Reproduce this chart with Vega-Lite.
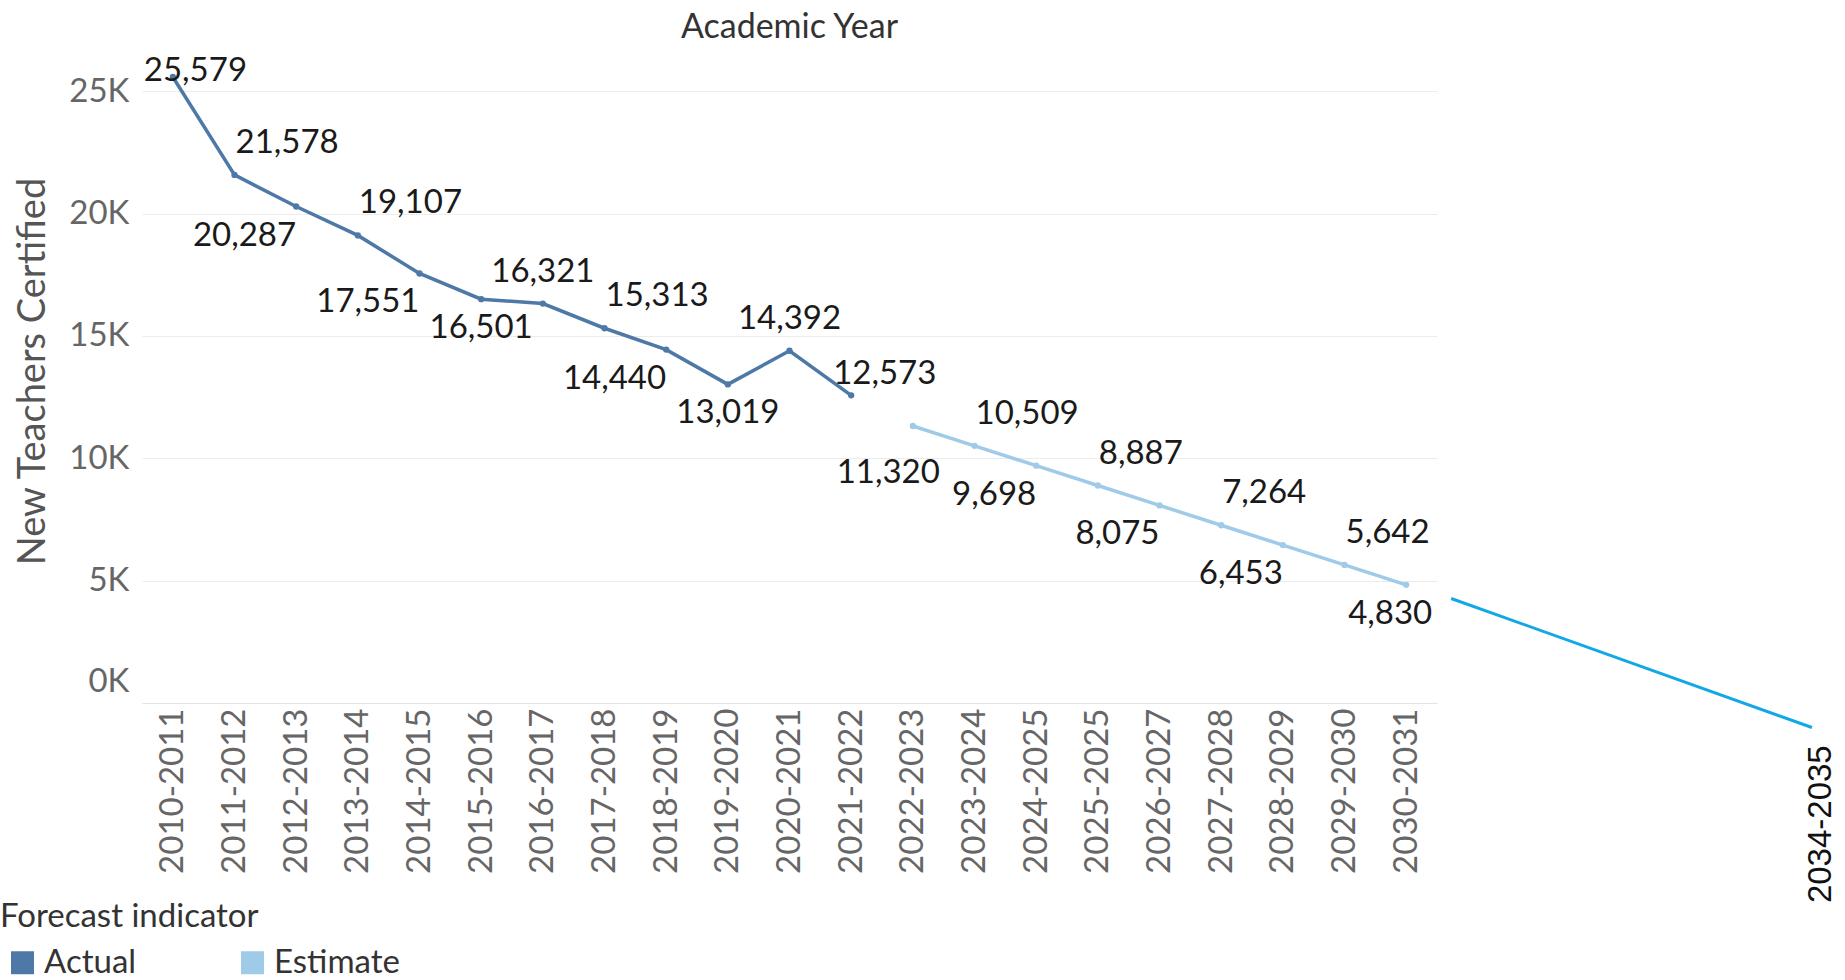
{
  "$schema": "https://vega.github.io/schema/vega-lite/v6.json",
  "width": 1295,
  "height": 650,
  "autosize": {"type": "none"},
  "padding": {"left": 142, "top": 53, "right": 408, "bottom": 277},
  "background": "white",
  "config": {"view": {"stroke": null}, "font": "Lato"},
  "title": {"text": "Academic Year", "frame": "group", "anchor": "middle", "font": "Lato", "fontSize": 34, "fontWeight": "normal", "color": "#333333", "offset": 8},
  "datasets": {
    "main": [
      {"year": "2010-2011", "value": 25579, "indicator": "Actual"},
      {"year": "2011-2012", "value": 21578, "indicator": "Actual"},
      {"year": "2012-2013", "value": 20287, "indicator": "Actual"},
      {"year": "2013-2014", "value": 19107, "indicator": "Actual"},
      {"year": "2014-2015", "value": 17551, "indicator": "Actual"},
      {"year": "2015-2016", "value": 16501, "indicator": "Actual"},
      {"year": "2016-2017", "value": 16321, "indicator": "Actual"},
      {"year": "2017-2018", "value": 15313, "indicator": "Actual"},
      {"year": "2018-2019", "value": 14440, "indicator": "Actual"},
      {"year": "2019-2020", "value": 13019, "indicator": "Actual"},
      {"year": "2020-2021", "value": 14392, "indicator": "Actual"},
      {"year": "2021-2022", "value": 12573, "indicator": "Actual"},
      {"year": "2022-2023", "value": 11320, "indicator": "Estimate"},
      {"year": "2023-2024", "value": 10509, "indicator": "Estimate"},
      {"year": "2024-2025", "value": 9698, "indicator": "Estimate"},
      {"year": "2025-2025", "value": 8887, "indicator": "Estimate"},
      {"year": "2026-2027", "value": 8075, "indicator": "Estimate"},
      {"year": "2027-2028", "value": 7264, "indicator": "Estimate"},
      {"year": "2028-2029", "value": 6453, "indicator": "Estimate"},
      {"year": "2029-2030", "value": 5642, "indicator": "Estimate"},
      {"year": "2030-2031", "value": 4830, "indicator": "Estimate"}
    ],
    "annot": [
      {"kind": "line", "pos": 20.73, "value": 4271},
      {"kind": "line", "pos": 26.58, "value": -1001},
      {"kind": "label", "pos": 26.72, "value": -4953, "label": "2034-2035"}
    ]
  },
  "encoding": {
    "y": {
      "field": "value", "type": "quantitative",
      "scale": {"domain": [0, 26560], "nice": false, "zero": true},
      "axis": {
        "title": "New Teachers Certified",
        "values": [0, 5000, 10000, 15000, 20000, 25000],
        "labelExpr": "format(datum.value/1000,'d')+'K'",
        "labelFont": "Lato", "labelFontSize": 33, "labelColor": "#666666", "labelPadding": 13,
        "labelOffset": {"condition": {"test": "datum.value === 0", "value": -22}, "value": 0},
        "ticks": false, "domain": false,
        "gridColor": "#ececec", "gridWidth": 1,
        "titleFont": "Lato", "titleFontSize": 38, "titleFontWeight": "normal", "titleColor": "#555555",
        "titleX": -109, "titleY": 318, "titleBaseline": "middle"
      }
    }
  },
  "layer": [
    {
      "data": {"name": "main"},
      "encoding": {
        "x": {
          "field": "year", "type": "ordinal", "sort": null,
          "scale": {"type": "point", "padding": 0.5},
          "axis": {"title": null, "labelAngle": 270, "labelFont": "Lato", "labelFontSize": 33, "labelColor": "#666666", "ticks": false, "labelPadding": 5, "domainColor": "#e3e3e3", "grid": false}
        }
      },
      "layer": [
        {
          "mark": {"type": "line", "strokeWidth": 3.5, "point": {"filled": true, "size": 40}},
          "encoding": {
            "color": {
              "field": "indicator", "type": "nominal",
              "scale": {"domain": ["Actual", "Estimate"], "range": ["#4e79a7", "#a0cbe8"]},
              "legend": {
                "title": "Forecast indicator", "orient": "none", "legendX": -142, "legendY": 848,
                "direction": "horizontal", "columns": 2,
                "titleFont": "Lato", "titleFontSize": 33, "titleFontWeight": "normal", "titleColor": "#333333", "titlePadding": 12, "titleLimit": 500,
                "labelFont": "Lato", "labelFontSize": 33, "labelColor": "#333333", "labelOffset": 5, "labelLimit": 300,
                "symbolType": "square", "symbolSize": 529, "symbolStrokeWidth": 0, "symbolOffset": 6,
                "columnPadding": 93, "padding": 0,
                "encode": {"symbols": {"update": {"fill": {"scale": "color", "field": "value"}, "stroke": {"value": "transparent"}, "opacity": {"value": 1}}}}
              }
            }
          }
        },
        {
          "transform": [{"filter": {"field": "year", "oneOf": ["2011-2012", "2013-2014", "2017-2018", "2023-2024", "2025-2025", "2027-2028", "2029-2030"]}}],
          "mark": {"type": "text", "font": "Lato", "fontSize": 33, "color": "#1a1a1a", "baseline": "middle", "align": "left", "dx": 1, "dy": -32},
          "encoding": {"text": {"field": "value", "type": "quantitative", "format": ","}}
        },
        {
          "transform": [{"filter": {"field": "year", "oneOf": ["2012-2013", "2014-2015", "2018-2019", "2024-2025", "2026-2027", "2028-2029"]}}],
          "mark": {"type": "text", "font": "Lato", "fontSize": 33, "color": "#1a1a1a", "baseline": "middle", "align": "right", "dx": 0, "dy": 29},
          "encoding": {"text": {"field": "value", "type": "quantitative", "format": ","}}
        },
        {
          "transform": [{"filter": {"field": "year", "oneOf": ["2015-2016", "2019-2020"]}}],
          "mark": {"type": "text", "font": "Lato", "fontSize": 33, "color": "#1a1a1a", "baseline": "middle", "align": "center", "dy": 29},
          "encoding": {"text": {"field": "value", "type": "quantitative", "format": ","}}
        },
        {
          "transform": [{"filter": {"field": "year", "oneOf": ["2016-2017", "2020-2021"]}}],
          "mark": {"type": "text", "font": "Lato", "fontSize": 33, "color": "#1a1a1a", "baseline": "middle", "align": "center", "dy": -32},
          "encoding": {"text": {"field": "value", "type": "quantitative", "format": ","}}
        },
        {
          "transform": [{"filter": {"field": "year", "equal": "2030-2031"}}],
          "mark": {"type": "text", "font": "Lato", "fontSize": 33, "color": "#1a1a1a", "baseline": "middle", "align": "center", "dx": -16, "dy": 29},
          "encoding": {"text": {"field": "value", "type": "quantitative", "format": ","}}
        },
        {
          "transform": [{"filter": {"field": "year", "equal": "2010-2011"}}],
          "mark": {"type": "text", "font": "Lato", "fontSize": 33, "color": "#1a1a1a", "baseline": "middle", "align": "left", "dx": -29, "dy": -6},
          "encoding": {"text": {"field": "value", "type": "quantitative", "format": ","}}
        },
        {
          "transform": [{"filter": {"field": "year", "equal": "2021-2022"}}],
          "mark": {"type": "text", "font": "Lato", "fontSize": 33, "color": "#1a1a1a", "baseline": "middle", "align": "left", "dx": -18, "dy": -21},
          "encoding": {"text": {"field": "value", "type": "quantitative", "format": ","}}
        },
        {
          "transform": [{"filter": {"field": "year", "equal": "2022-2023"}}],
          "mark": {"type": "text", "font": "Lato", "fontSize": 33, "color": "#1a1a1a", "baseline": "middle", "align": "right", "dx": 27, "dy": 47},
          "encoding": {"text": {"field": "value", "type": "quantitative", "format": ","}}
        }
      ]
    },
    {
      "data": {"name": "annot"},
      "encoding": {
        "x": {"field": "pos", "type": "quantitative", "scale": {"domain": [-0.5, 20.5], "nice": false, "zero": false}, "axis": null}
      },
      "layer": [
        {
          "transform": [{"filter": "datum.kind === 'line'"}],
          "mark": {"type": "line", "color": "#12a8e5", "strokeWidth": 3},
          "encoding": {"order": {"field": "pos", "type": "quantitative"}}
        },
        {
          "transform": [{"filter": "datum.kind === 'label'"}],
          "mark": {"type": "text", "angle": 270, "font": "Liberation Sans", "fontSize": 33, "color": "#111111", "align": "center", "baseline": "middle"},
          "encoding": {"text": {"field": "label", "type": "nominal"}}
        }
      ]
    }
  ],
  "resolve": {"scale": {"x": "independent"}, "axis": {"x": "independent"}}
}
